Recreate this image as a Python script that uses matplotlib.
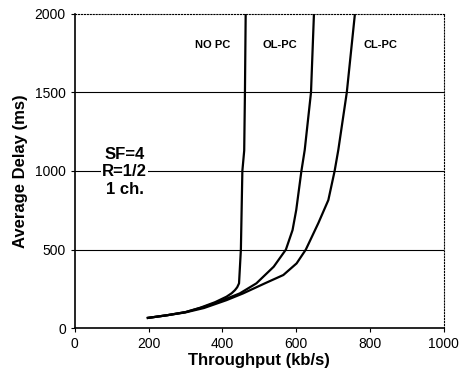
import matplotlib
matplotlib.use("Agg")
import matplotlib.pyplot as plt

plt.rcParams['font.family'] = ['Liberation Sans', 'DejaVu Sans']

nopc_x = [198, 250, 300, 340, 380, 411, 425, 434, 440, 445, 450, 454, 459, 461, 463]
nopc_y = [65, 82, 102, 130, 165, 200, 222, 242, 260, 285, 500, 1000, 1130, 1500, 2000]

olpc_x = [198, 250, 300, 350, 401, 447, 492, 539, 572, 590, 600, 614, 623, 640, 648]
olpc_y = [65, 82, 102, 135, 178, 221, 285, 391, 500, 624, 752, 1000, 1134, 1500, 2000]

clpc_x = [198, 250, 300, 350, 411, 456, 515, 565, 601, 626, 660, 687, 704, 714, 737, 759]
clpc_y = [65, 82, 100, 128, 178, 221, 285, 338, 412, 500, 669, 815, 1000, 1134, 1500, 2000]

xticks = [0, 200, 400, 600, 800, 1000]
yticks = [0, 500, 1000, 1500, 2000]

fig = plt.figure(figsize=(4.59, 3.75), dpi=100)
ax = fig.add_axes([0.163, 0.125, 0.804, 0.838])

for v in [500, 1000, 1500]:
    ax.axhline(v, color='black', lw=0.8, zorder=1)

for xs, ys in [(nopc_x, nopc_y), (olpc_x, olpc_y), (clpc_x, clpc_y)]:
    ax.plot(xs, ys, color='black', lw=1.6, zorder=3, solid_joinstyle='round')

ax.set_xlim(0, 1000)
ax.set_ylim(0, 2000)
ax.set_xticks(xticks)
ax.set_yticks(yticks)
ax.tick_params(labelsize=10, direction='out', length=3, width=0.8)

ax.spines['top'].set_linestyle(':')
ax.spines['right'].set_linestyle(':')
ax.spines['top'].set_linewidth(0.8)
ax.spines['right'].set_linewidth(0.8)
ax.spines['left'].set_linewidth(1.2)
ax.spines['bottom'].set_linewidth(1.2)

ax.set_xlabel('Throughput (kb/s)', fontsize=12, fontweight='bold', labelpad=1)
ax.set_ylabel('Average Delay (ms)', fontsize=12, fontweight='bold', labelpad=5)

ax.text(374, 1805, 'NO PC', fontsize=8, fontweight='bold', ha='center', va='center')
ax.text(556, 1805, 'OL-PC', fontsize=8, fontweight='bold', ha='center', va='center')
ax.text(829, 1805, 'CL-PC', fontsize=8, fontweight='bold', ha='center', va='center')
ax.text(135, 996, 'SF=4\nR=1/2\n1 ch.', fontsize=12, fontweight='bold',
        ha='center', va='center', linespacing=1.2,
        bbox=dict(facecolor='white', edgecolor='none', pad=1), zorder=2)

fig.savefig('out.png', dpi=100)
